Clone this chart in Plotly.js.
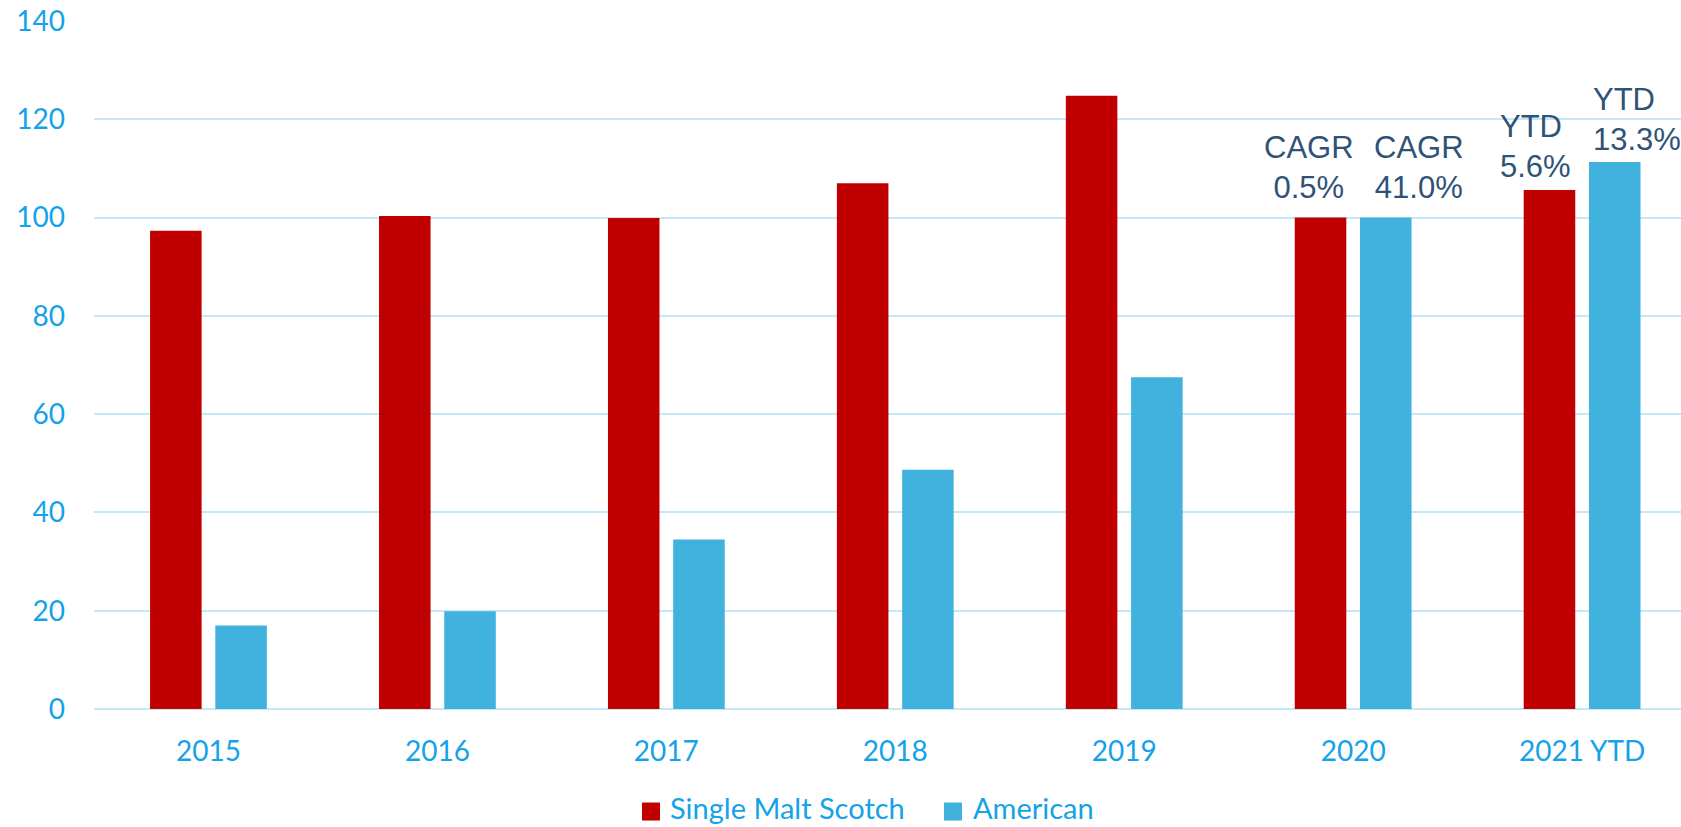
<!DOCTYPE html>
<html>
<head>
<meta charset="utf-8">
<script src="https://cdn.plot.ly/plotly-3.0.1.min.js"></script>
<style>
html,body{margin:0;padding:0;background:#fff;}
#chart{width:1681px;height:827px;}
</style>
</head>
<body>
<div id="chart"></div>
<script>
// ---- data ----
const categories = ["2015", "2016", "2017", "2018", "2019", "2020", "2021 YTD"];
const singleMaltScotch = [97.3, 100.3, 99.9, 107.0, 124.8, 100.0, 105.6];
const american = [17.0, 19.9, 34.5, 48.7, 67.5, 100.0, 111.3];
const seriesNames = ["Single Malt Scotch", "American"];
const growthLabels = [
  {cat: 5, series: 0, text: "CAGR<br>0.5%"},
  {cat: 5, series: 1, text: "CAGR<br>41.0%"},
  {cat: 6, series: 0, text: "YTD<br>5.6%"},
  {cat: 6, series: 1, text: "YTD<br>13.3%"}
];
const yTicks = [0, 20, 40, 60, 80, 100, 120, 140];

// ---- styles ----
const RED = "#C00000";
const BLUE = "#41B2DD";
const AXIS_TEXT = "#14A2E8";
const GRID = "#C4E7FA";
const LABEL_COLOR = "#2F5377";
const seriesColors = [RED, BLUE];
const tickFont = {family: "Lato, 'Open Sans', sans-serif", size: 28, color: AXIS_TEXT};

const W = 1681, H = 827;
const M = {l: 94, r: 0, t: 21.4, b: 118.4};
const plotW = W - M.l - M.r, plotH = H - M.t - M.b;
const px2paperX = p => (p - M.l) / plotW;
const px2paperY = p => (H - M.b - p) / plotH;

const BARGAP = 0.43, GROUPGAP = 0.21;
const slot = (1 - BARGAP) / 2;

const seriesVals = [singleMaltScotch, american];
const traces = seriesVals.map((vals, i) => ({
  type: "bar", name: seriesNames[i], x: categories, y: vals,
  marker: {color: seriesColors[i]}, hoverinfo: "x+y", showlegend: false
}));

const labelStyle = [
  {xshift: -12, yshift: 11, align: "center"},
  {xshift: 33, yshift: 11, align: "center"},
  {xshift: -14, yshift: 4, align: "left"},
  {xshift: 22, yshift: 3, align: "left"}
];
const annotations = growthLabels.map((g, i) => ({
  xref: "x", yref: "y",
  x: g.cat + (g.series === 0 ? -slot / 2 : slot / 2),
  y: seriesVals[g.series][g.cat],
  text: g.text,
  showarrow: false,
  xanchor: "center", yanchor: "bottom",
  xshift: labelStyle[i].xshift, yshift: labelStyle[i].yshift,
  align: labelStyle[i].align,
  font: {family: "'Liberation Sans', Arial, sans-serif", size: 31, color: LABEL_COLOR}
}));

// ---- custom legend (square swatches + text) ----
const legendItems = [{sq: 642, txt: 668}, {sq: 944, txt: 971}];
const SQ = 18, legendTop = 802;
const shapes = legendItems.map((it, i) => ({
  type: "rect", xref: "paper", yref: "paper",
  x0: px2paperX(it.sq), x1: px2paperX(it.sq + SQ),
  y0: px2paperY(legendTop + SQ), y1: px2paperY(legendTop),
  fillcolor: seriesColors[i], line: {width: 0}
}));
legendItems.forEach((it, i) => {
  annotations.push({
    xref: "paper", yref: "paper",
    x: px2paperX(it.txt), y: px2paperY(H - 1),
    xanchor: "left", yanchor: "bottom", showarrow: false,
    text: seriesNames[i],
    font: {family: "Lato, 'Open Sans', sans-serif", size: 29, color: AXIS_TEXT}
  });
});

const layout = {
  width: W, height: H,
  margin: {l: M.l, r: M.r, t: M.t, b: M.b, pad: 0, autoexpand: false},
  paper_bgcolor: "#ffffff", plot_bgcolor: "#ffffff",
  barmode: "group", bargap: BARGAP, bargroupgap: GROUPGAP,
  showlegend: false,
  xaxis: {type: "category", range: [-0.5, 6.432], showgrid: false, showline: false,
          zeroline: false, ticks: "", tickfont: tickFont, ticklabelstandoff: 23, fixedrange: true},
  yaxis: {range: [0, 140], tickvals: yTicks, ticktext: yTicks.map(String), showgrid: true,
          gridcolor: GRID, gridwidth: 2, zeroline: true, zerolinecolor: GRID, zerolinewidth: 2,
          showline: false, ticks: "", tickfont: tickFont, ticklabelstandoff: 28, fixedrange: true},
  annotations: annotations,
  shapes: shapes
};

Plotly.newPlot("chart", traces, layout, {displayModeBar: false, staticPlot: true});
</script>
</body>
</html>
